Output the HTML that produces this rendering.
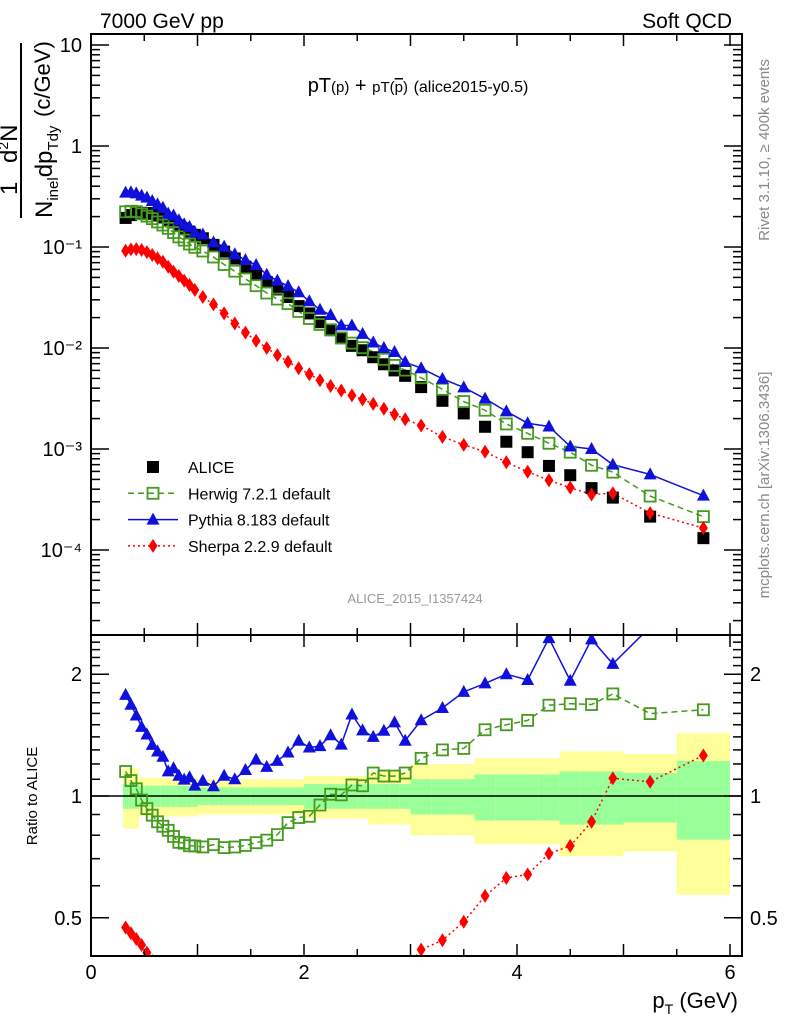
<!DOCTYPE html>
<html><head><meta charset="utf-8"><style>
body{margin:0;background:#fff}
svg{display:block;font-family:"Liberation Sans",sans-serif}
</style></head><body>
<svg id="c" width="786" height="1024" viewBox="0 0 786 1024" xmlns="http://www.w3.org/2000/svg">
<defs>
<clipPath id="cm"><rect x="91" y="34" width="651" height="601"/></clipPath>
<clipPath id="cr"><rect x="91" y="635" width="651" height="321"/></clipPath>
</defs>
<g id="bands" clip-path="url(#cr)"></g>
<line x1="91" x2="742" y1="796" y2="796" stroke="#000" stroke-width="1.5"/>
<g id="series"></g>
<g id="axes"></g>
<rect x="91" y="34" width="651" height="601" fill="none" stroke="#000" stroke-width="2"/>
<rect x="91" y="635" width="651" height="321" fill="none" stroke="#000" stroke-width="2"/>
<text x="100" y="28" font-size="21">7000 GeV pp</text>
<text x="732" y="28" font-size="21" text-anchor="end">Soft QCD</text>
<text x="418" y="92" font-size="20" text-anchor="middle">pT<tspan font-size="15">(p)</tspan> + <tspan font-size="15">pT(</tspan><tspan font-size="15" text-decoration="overline">p</tspan><tspan font-size="15">)</tspan> <tspan font-size="16">(alice2015-y0.5)</tspan></text>
<text x="415" y="603" font-size="13" fill="#999" text-anchor="middle">ALICE_2015_I1357424</text>
<text transform="translate(769,150) rotate(-90)" font-size="15" fill="#888" text-anchor="middle">Rivet 3.1.10, ≥ 400k events</text>
<text transform="translate(769,485) rotate(-90)" font-size="15" fill="#888" text-anchor="middle">mcplots.cern.ch [arXiv:1306.3436]</text>
<g>
<text transform="translate(17,195) rotate(-90)" font-size="24">1</text>
<text transform="translate(17,163) rotate(-90)" font-size="24">d<tspan font-size="14" dy="-9">2</tspan><tspan dy="9">N</tspan></text>
<line x1="21" x2="21" y1="43" y2="218" stroke="#000" stroke-width="2"/>
<text transform="translate(52,218) rotate(-90)" font-size="24">N<tspan font-size="15" dy="6">inel</tspan><tspan dy="-6">dp</tspan><tspan font-size="15" dy="6">Tdy</tspan></text>
<text transform="translate(50,117) rotate(-90)" font-size="22">(c/GeV)</text>
</g>
<text transform="translate(37,796) rotate(-90)" font-size="15" text-anchor="middle">Ratio to ALICE</text>
<text x="738" y="1008" font-size="22" text-anchor="end">p<tspan font-size="14" dy="6">T</tspan><tspan dy="-6"> (GeV)</tspan></text>
<g id="legend"></g>
</svg>
<script>
const edges=[0.3,0.35,0.4,0.45,0.5,0.55,0.6,0.65,0.7,0.75,0.8,0.85,0.9,0.95,1.0,1.1,1.2,1.3,1.4,1.5,1.6,1.7,1.8,1.9,2.0,2.1,2.2,2.3,2.4,2.5,2.6,2.7,2.8,2.9,3.0,3.2,3.4,3.6,3.8,4.0,4.2,4.4,4.6,4.8,5.0,5.5,6.0];
const alice=[0.194,0.207,0.215,0.218,0.217,0.213,0.205,0.196,0.186,0.175,0.164,0.153,0.142,0.132,0.122,0.105,0.090,0.077,0.064,0.054,0.045,0.038,0.032,0.026,0.022,0.018,0.015,0.0125,0.0105,0.0095,0.0081,0.0069,0.006,0.0053,0.0041,0.0030,0.00225,0.00166,0.00118,0.00093,0.00068,0.00055,0.00041,0.00033,0.000214,0.000131];
const herwig=[0.223,0.226,0.224,0.213,0.202,0.191,0.177,0.165,0.153,0.139,0.126,0.117,0.107,0.0993,0.0913,0.0796,0.0671,0.0576,0.0483,0.0414,0.035,0.0305,0.0275,0.023,0.0196,0.0171,0.01515,0.01258,0.01118,0.01007,0.00923,0.00773,0.00672,0.00604,0.00508,0.0039,0.00295,0.00242,0.00177,0.00143,0.00114,0.00093,0.00069,0.00059,0.000342,0.000214];
const pythia=[0.345,0.348,0.340,0.323,0.308,0.285,0.264,0.245,0.214,0.205,0.184,0.168,0.158,0.140,0.133,0.111,0.101,0.0847,0.0742,0.0664,0.0531,0.0464,0.041,0.0356,0.029,0.0239,0.0212,0.01675,0.0167,0.0138,0.01134,0.0100,0.00912,0.00726,0.00631,0.00495,0.00407,0.00315,0.00236,0.0018,0.00167,0.00106,0.0010,0.0007,0.00056,0.000345];
const sherpa=[0.0918,0.0948,0.0953,0.0934,0.089,0.0833,0.0773,0.0715,0.0638,0.0569,0.0516,0.0464,0.042,0.0375,0.032,0.027,0.022,0.0175,0.0142,0.0118,0.0100,0.0085,0.0073,0.0063,0.0055,0.0048,0.0042,0.0038,0.0034,0.0031,0.0028,0.0025,0.0022,0.00197,0.00171,0.00132,0.0011,0.00094,0.00074,0.000595,0.00049,0.000414,0.000354,0.000365,0.000232,0.000165];
const errTot=[0.17,0.17,0.17,0.11,0.11,0.11,0.11,0.11,0.11,0.11,0.11,0.11,0.11,0.11,0.10,0.10,0.10,0.10,0.10,0.10,0.10,0.10,0.10,0.10,0.12,0.12,0.12,0.12,0.12,0.12,0.15,0.15,0.15,0.15,0.20,0.20,0.20,0.24,0.24,0.24,0.24,0.29,0.29,0.29,0.27,0.43];
const errStat=[0.07,0.07,0.07,0.06,0.06,0.06,0.06,0.06,0.06,0.06,0.06,0.06,0.06,0.06,0.05,0.05,0.05,0.05,0.05,0.05,0.05,0.05,0.05,0.05,0.07,0.07,0.07,0.07,0.07,0.07,0.07,0.07,0.07,0.07,0.10,0.10,0.10,0.13,0.13,0.13,0.13,0.15,0.15,0.15,0.14,0.22];
const xTicks=[0,2,4,6];
const mainTicks=[1e1,1,1e-1,1e-2,1e-3,1e-4];
const mainTickLabels=["10","1","10\u207B\u00B9","10\u207B\u00B2","10\u207B\u00B3","10\u207B\u2074"];
const ratioTicks=[0.5,1,2];
const ratioTickLabels=["0.5","1","2"];

const NS="http://www.w3.org/2000/svg";
const X=v=>91+v*106.5;
const YM=v=>146-Math.log10(v)*101;
const YR=r=>796-Math.log2(r)*121.8;
function mk(tag,attrs,parent){const e=document.createElementNS(NS,tag);for(const k in attrs)e.setAttribute(k,attrs[k]);parent.appendChild(e);return e;}
const centers=alice.map((_,i)=>(edges[i]+edges[i+1])/2);

const bands=document.getElementById('bands');
alice.forEach((_,i)=>{
  const x0=X(edges[i]),x1=X(edges[i+1]);
  const y=mk('rect',{x:x0,width:x1-x0,y:YR(1+errTot[i]),height:YR(1-errTot[i])-YR(1+errTot[i]),fill:'#ffff99'},bands);
  
  
  const g=mk('rect',{x:x0,width:x1-x0,y:YR(1+errStat[i]),height:YR(1-errStat[i])-YR(1+errStat[i]),fill:'#99ff99'},bands);
  
  
});

const ax=document.getElementById('axes');
for(let v=0;v<=6.001;v+=0.5){
  const major=Math.abs(v-Math.round(v))<1e-6;
  const L=major?12:7;
  [[635,635-L],[34,34+L],[956,956-L],[635,635+L]].forEach(p=>mk('line',{x1:X(v),x2:X(v),y1:p[0],y2:p[1],stroke:'#000','stroke-width':1.5},ax));
}
xTicks.forEach(v=>{const t=mk('text',{x:X(v),y:979,'font-size':20,'text-anchor':'middle'},ax);t.textContent=v;
  
  });
for(let d=-5;d<=1;d++){for(let m=1;m<=9;m++){const v=m*Math.pow(10,d);const y=YM(v);if(y<34||y>635)continue;
  const L=m==1?18:9;
  mk('line',{x1:91,x2:91+L,y1:y,y2:y,stroke:'#000','stroke-width':1.5},ax);
  mk('line',{x1:742,x2:742-L,y1:y,y2:y,stroke:'#000','stroke-width':1.5},ax);}}
mainTicks.forEach((v,i)=>{const t=mk('text',{x:82,y:YM(v)+7,'font-size':20,'text-anchor':'end'},ax);t.textContent=mainTickLabels[i];
  
  });
for(let r=0.5;r<=2.45;r+=0.1){const y=YR(r);const maj=[0.5,1,2].some(q=>Math.abs(q-r)<1e-6);const L=maj?18:9;
  mk('line',{x1:91,x2:91+L,y1:y,y2:y,stroke:'#000','stroke-width':1.5},ax);
  mk('line',{x1:742,x2:742-L,y1:y,y2:y,stroke:'#000','stroke-width':1.5},ax);}
ratioTicks.forEach((v,i)=>{
  const t=mk('text',{x:82,y:YR(v)+7,'font-size':20,'text-anchor':'end'},ax);t.textContent=ratioTickLabels[i];
  
  
  const t2=mk('text',{x:750,y:YR(v)+7,'font-size':20},ax);t2.textContent=ratioTickLabels[i];
  
  });

function marker(type,color,x,y,parent){
  if(type==='sq')return mk('rect',{x:x-6,y:y-6,width:12,height:12,fill:'#000'},parent);
  if(type==='osq')return mk('rect',{x:x-5.5,y:y-5.5,width:11,height:11,fill:'#fff','fill-opacity':0,stroke:color,'stroke-width':1.8},parent);
  if(type==='tri')return mk('polygon',{points:`${x},${y-7} ${x-6.5},${y+5} ${x+6.5},${y+5}`,fill:color},parent);
  return mk('polygon',{points:`${x},${y-7} ${x-4.5},${y} ${x},${y+7} ${x+4.5},${y}`,fill:color},parent);
}
const ser=document.getElementById('series');
const gm=mk('g',{'clip-path':'url(#cm)'},ser);
const gr=mk('g',{'clip-path':'url(#cr)'},ser);
const models=[
 {name:'herwig',vals:herwig,color:'#459a1e',dash:'6,4',type:'osq'},
 {name:'pythia',vals:pythia,color:'#1010dd',dash:'',type:'tri'},
 {name:'sherpa',vals:sherpa,color:'#ff0000',dash:'2,3',type:'dia'}];
models.forEach(m=>{
  const pm=m.vals.map((v,i)=>X(centers[i])+','+YM(v)).join(' ');
  const l1=mk('polyline',{points:pm,fill:'none',stroke:m.color,'stroke-width':1.5,'stroke-dasharray':m.dash},gm);
  
  
  const pr=m.vals.map((v,i)=>X(centers[i])+','+YR(v/alice[i])).join(' ');
  const l2=mk('polyline',{points:pr,fill:'none',stroke:m.color,'stroke-width':1.5,'stroke-dasharray':m.dash},gr);
  
  
});
alice.forEach((v,i)=>{const e=marker('sq','#000',X(centers[i]),YM(v),gm);
  
  });
models.forEach(m=>{m.vals.forEach((v,i)=>{
  const e=marker(m.type,m.color,X(centers[i]),YM(v),gm);
  
  
  const r=marker(m.type,m.color,X(centers[i]),YR(v/alice[i]),gr);
  
  
});});

const lg=document.getElementById('legend');
const entries=[['ALICE','sq','#000',''],['Herwig 7.2.1 default','osq','#459a1e','6,4'],['Pythia 8.183 default','tri','#1010dd',''],['Sherpa 2.2.9 default','dia','#ff0000','2,3']];
entries.forEach((e,i)=>{
  const y=467+i*26.3;
  const g=mk('g',{},lg);
  
  
  if(i>0)mk('line',{x1:128,x2:178,y1:y,y2:y,stroke:e[2],'stroke-width':1.5,'stroke-dasharray':e[3]},g);
  marker(e[1],e[2],153,y,g);
  const t=mk('text',{x:188,y:y+6,'font-size':16},g);t.textContent=e[0];
});
</script>
</body></html>
